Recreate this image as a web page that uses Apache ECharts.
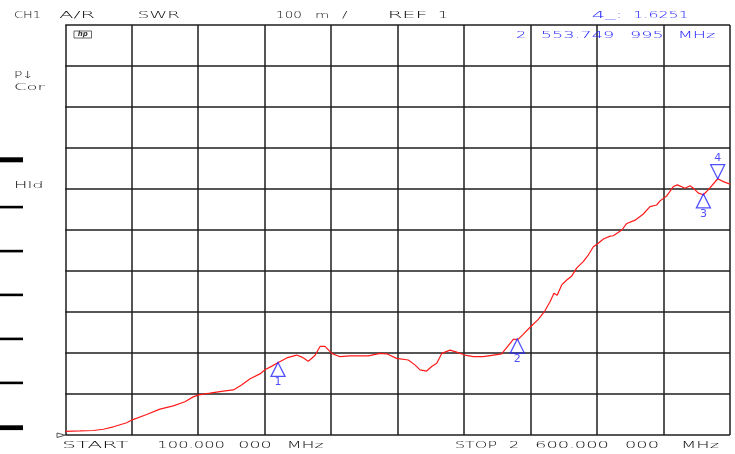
<!DOCTYPE html>
<html>
<head>
<meta charset="utf-8">
<script src="https://cdn.jsdelivr.net/npm/echarts@6/dist/echarts.min.js"></script>
<style>html,body{margin:0;padding:0;background:#fff}#c{width:735px;height:454px}</style>
</head>
<body>
<div id="c"></div>
<script>
// ---- data ----
const freqMHz = [100,155,205,243,281,331,352,406,456,506,550,581,602,644,694,732,763,795,832,851,877,901,933,970,990,1014,1039,1058,1077,1102,1133,1171,1240,1284,1309,1346,1390,1415,1434,1459,1478,1497,1516,1547,1572,1603,1635,1672,1710,1741,1766,1785,1804,1823,1850,1879,1904,1923,1938,1950,1967,1986,2005,2023,2048,2067,2086,2101,2124,2149,2161,2193,2212,2243,2274,2299,2324,2337,2362,2387,2402,2431,2450,2462,2481,2500,2518,2554,2575,2600];
const swrValues = [1.009,1.010,1.011,1.014,1.020,1.030,1.037,1.050,1.063,1.071,1.081,1.093,1.098,1.102,1.107,1.110,1.122,1.137,1.149,1.159,1.168,1.177,1.188,1.195,1.190,1.180,1.194,1.216,1.216,1.199,1.191,1.193,1.193,1.199,1.198,1.187,1.183,1.171,1.159,1.156,1.167,1.175,1.199,1.207,1.202,1.195,1.191,1.191,1.195,1.198,1.218,1.233,1.234,1.246,1.264,1.282,1.303,1.325,1.346,1.341,1.366,1.378,1.388,1.407,1.423,1.439,1.459,1.466,1.478,1.485,1.486,1.500,1.516,1.524,1.539,1.557,1.561,1.571,1.583,1.606,1.610,1.602,1.608,1.602,1.590,1.586,1.598,1.625,1.618,1.612];
const markerFreqMHz = [900, 1800, 2500, 2553.75];
const markerSwr = [1.177, 1.234, 1.588, 1.6251];
const markerNames = ['1', '2', '3', '4'];
const xDivisions = [0, 10];
const yRange = [1, 2];
const headerTexts = ['CH1', 'A/R', 'SWR', '100', 'm', '/', 'REF', '1'];
const activeMarkerTexts = ['4_:', '1.6251'];
const activeFreqTexts = ['2', '553.749', '995', 'MHz'];
const sideTexts = ['P↓', 'Cor', 'Hld'];
const startTexts = ['START', '100.000', '000', 'MHz'];
const stopTexts = ['STOP', '2', '600.000', '000', 'MHz'];

// ---- helpers ----
const BLUE = '#2424ff', INK = '#0a0a0a';
const cv = document.createElement('canvas').getContext('2d');
const FAM = '"DejaVu Sans"';
function txt(str, x0, x1, yc, color, size) {
  size = size || 9.5;
  const font = '200 ' + size + 'px ' + FAM;
  cv.font = font;
  const w = cv.measureText(str).width;
  const sx = (x1 != null) ? (x1 - x0 + 1) / w : 1.7;
  return {type: 'text', x: x0, y: yc, scaleX: sx, silent: true, z: 10,
    style: {text: str, font: font, fill: color, align: 'left', verticalAlign: 'middle',
            textAlign: 'left', textVerticalAlign: 'middle'}};
}
function bar(y0, h) {
  return {type: 'rect', shape: {x: 0, y: y0, width: 23, height: h}, style: {fill: '#000'}, silent: true};
}

const graphics = [
  txt(headerTexts[0], 14, 40, 16, INK),
  txt(headerTexts[1], 59.3, 94, 16, INK),
  txt(headerTexts[2], 137.7, 179, 16, INK),
  txt(headerTexts[3], 276, 301, 16, INK),
  txt(headerTexts[4], 315, 328.3, 16, INK),
  txt(headerTexts[5], 342, null, 16, INK),
  txt(headerTexts[6], 387.7, 426.7, 16, INK),
  txt(headerTexts[7], 438, null, 16, INK),
  txt(activeMarkerTexts[0], 591.7, 621.7, 16, BLUE),
  txt(activeMarkerTexts[1], 633.3, 687.7, 16, BLUE),
  txt(activeFreqTexts[0], 516, null, 36, BLUE),
  txt(activeFreqTexts[1], 540.7, 613.3, 36, BLUE),
  txt(activeFreqTexts[2], 630, 662.7, 36, BLUE),
  txt(activeFreqTexts[3], 677.7, 714.3, 36, BLUE),
  txt(sideTexts[0], 14, 33, 76, INK),
  txt(sideTexts[1], 14, 44, 88, INK),
  txt(sideTexts[2], 14, 42.7, 186, INK),
  txt(startTexts[0], 62.3, 127.7, 446, INK),
  txt(startTexts[1], 157.3, 224, 446, INK),
  txt(startTexts[2], 238.3, 270.7, 446, INK),
  txt(startTexts[3], 286.7, 322.7, 446, INK),
  txt(stopTexts[0], 455, 496, 446, INK),
  txt(stopTexts[1], 509, null, 446, INK),
  txt(stopTexts[2], 535, 608, 446, INK),
  txt(stopTexts[3], 625, 658, 446, INK),
  txt(stopTexts[4], 681, 718, 446, INK),
  bar(157.3, 5), bar(205.8, 2.6), bar(249.8, 2.6), bar(293.6, 2.6), bar(337.6, 2.6), bar(381.6, 2.6), bar(425.3, 4.8),
  {type: 'polygon', silent: true, shape: {points: [[57, 433], [57, 437.5], [65, 435.2]]},
   style: {fill: 'none', stroke: '#555', lineWidth: 1}},
  {type: 'rect', silent: true, shape: {x: 74, y: 31, width: 17.5, height: 7}, style: {fill: 'none', stroke: '#444', lineWidth: 0.8}},
  {type: 'text', silent: true, x: 82.8, y: 34.6, style: {text: 'hp', font: 'italic bold 7px ' + FAM, fill: '#333', align: 'center', verticalAlign: 'middle', textAlign: 'center', textVerticalAlign: 'middle'}}
];

const chart = echarts.init(document.getElementById('c'), null, {renderer: 'canvas'});
const gridLine = {show: true, lineStyle: {color: '#1e1e1e', width: 1.5}};
chart.setOption({
  animation: false,
  backgroundColor: '#fff',
  grid: {left: 65.3, right: 5, top: 25, bottom: 19, containLabel: false},
  xAxis: [
    {type: 'value', min: 100, max: 2600, show: false},
    {type: 'value', min: xDivisions[0], max: xDivisions[1], interval: 1, position: 'bottom',
     axisLine: {show: false}, axisTick: {show: false}, axisLabel: {show: false}, splitLine: gridLine}
  ],
  yAxis: [{type: 'value', min: yRange[0], max: yRange[1], interval: 0.1,
    axisLine: {show: false}, axisTick: {show: false}, axisLabel: {show: false}, splitLine: gridLine}],
  series: [
    {type: 'line', xAxisIndex: 0, yAxisIndex: 0, showSymbol: false, z: 5,
     lineStyle: {color: '#ff1a1a', width: 1.2},
     data: freqMHz.map((f, i) => [f, swrValues[i]])},
    {type: 'scatter', xAxisIndex: 0, yAxisIndex: 0, z: 6, symbol: 'triangle', symbolSize: [14, 14],
     itemStyle: {color: 'rgba(0,0,0,0)', borderColor: BLUE, borderWidth: 1.3},
     label: {show: true, color: BLUE, fontSize: 11, fontFamily: 'DejaVu Sans', formatter: p => p.name},
     data: markerFreqMHz.map((f, i) => {
       const down = i === markerFreqMHz.length - 1;
       return {name: markerNames[i], value: [f, markerSwr[i]],
         symbolRotate: down ? 180 : 0,
         symbolOffset: [0, down ? '-50%' : '50%'],
         label: {position: down ? 'top' : 'bottom', distance: 0}};
     })}
  ],
  graphic: graphics
});
</script>
</body>
</html>
